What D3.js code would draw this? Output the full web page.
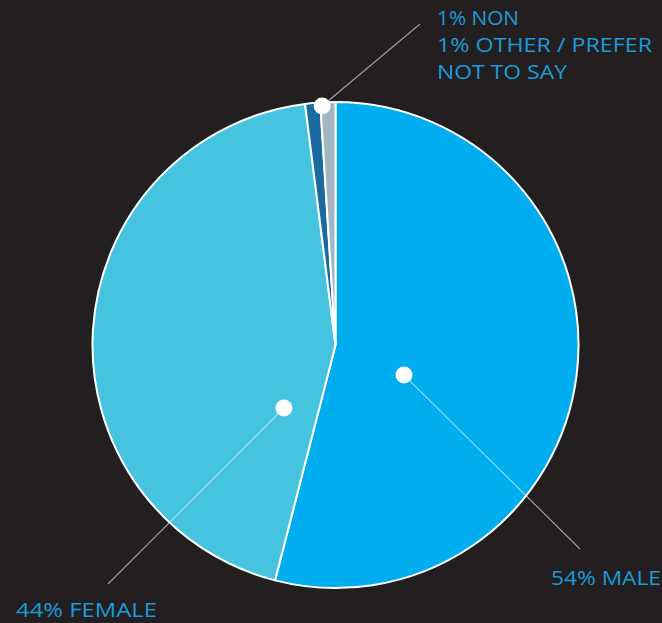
<!DOCTYPE html>
<html><head><meta charset="utf-8">
<script src="https://cdn.jsdelivr.net/npm/d3@7"></script>
<style>html,body{margin:0;padding:0;background:#231f20;}svg{display:block;}</style>
</head><body>
<script>
const categories = ["MALE", "FEMALE", "NON", "OTHER / PREFER NOT TO SAY"];
const values = [54, 44, 1, 1];
const colors = ["#00adee", "#46c3df", "#1a6aa2", "#a4b6c4"];

const W = 662, H = 623;
const cx = 335.5, cy = 345, R = 243;
const svg = d3.select("body").append("svg").attr("width", W).attr("height", H);
svg.append("rect").attr("width", W).attr("height", H).attr("fill", "#231f20");

const pie = d3.pie().sort(null).value(d => d)(values);
const arc = d3.arc().innerRadius(0).outerRadius(R);
const g = svg.append("g").attr("transform", `translate(${cx},${cy})`);
g.selectAll("path").data(pie).join("path")
  .attr("d", arc).attr("fill", (d, i) => colors[i])
  .attr("stroke", "#ffffff").attr("stroke-width", 2).attr("stroke-linejoin", "round");

// leader lines & dots: angle (deg, clockwise from top) and radius fraction
const leaders = [
  {deg: 113.7, r: 0.308, end: [580, 549]},
  {deg: 219.3, r: 0.335, end: [108, 584]},
  {deg: 356.8, r: 0.985, end: [420, 24]}
];
leaders.forEach(l => {
  const a = l.deg * Math.PI / 180;
  const x = cx + Math.sin(a) * R * l.r, y = cy - Math.cos(a) * R * l.r;
  svg.append("line").attr("x1", x).attr("y1", y).attr("x2", l.end[0]).attr("y2", l.end[1])
    .attr("stroke", "#ffffff").attr("stroke-opacity", 0.55).attr("stroke-width", 1.2);
  svg.append("circle").attr("cx", x).attr("cy", y).attr("r", 8.5).attr("fill", "#ffffff");
});

const labelColor = "#1b9bd7";
const labels = [
  {t: `${values[2]}% ${categories[2]}`, x: 437, y: 25, w: 82},
  {t: `${values[3]}% OTHER / PREFER`, x: 437, y: 52, w: 215},
  {t: "NOT TO SAY", x: 437, y: 79, w: 130},
  {t: `${values[1]}% ${categories[1]}`, x: 16, y: 617, w: 141},
  {t: `${values[0]}% ${categories[0]}`, x: 551, y: 585, w: 110}
];
svg.selectAll("text.lbl").data(labels).join("text").attr("class", "lbl")
  .attr("x", d => d.x).attr("y", d => d.y)
  .attr("textLength", d => d.w).attr("lengthAdjust", "spacingAndGlyphs")
  .attr("fill", labelColor)
  .style("font-family", "'Open Sans', 'Noto Sans', sans-serif")
  .style("font-size", "20px")
  .style("font-weight", "500")
  .text(d => d.t);
</script>
</body></html>
